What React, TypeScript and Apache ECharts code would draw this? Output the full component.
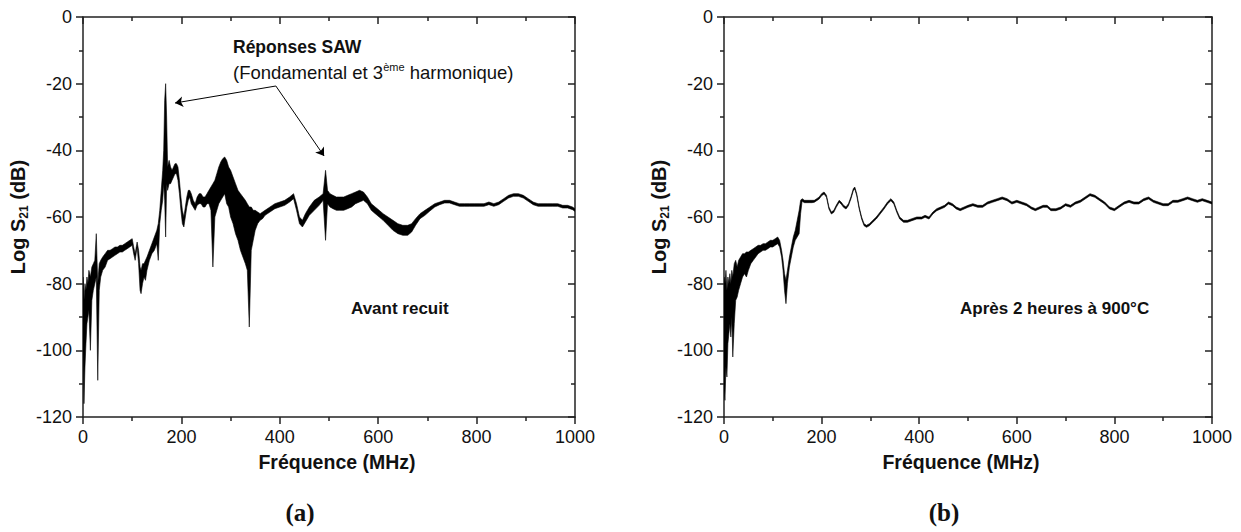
import React, { useEffect, useRef } from "react";
import * as echarts from "echarts";

// [frequency MHz, upper envelope dB, lower envelope dB]
const spectrumA: [number, number, number][] = [
  [0, -78, -100], [2, -85, -116], [4, -80, -105], [6, -82, -98], [8, -78, -92],
  [10, -80, -90], [12, -76, -88], [15, -78, -100], [18, -75, -85], [21, -74, -82],
  [24, -73, -80], [27, -65, -78], [30, -80, -109], [33, -74, -82], [36, -73, -78],
  [40, -72, -76], [45, -71, -75], [50, -70, -73], [55, -70, -72.5], [60, -69.5, -72],
  [65, -69, -71.5], [70, -69, -71], [75, -68.5, -70.5], [80, -68.5, -70.5], [85, -68, -70],
  [90, -67.5, -69.5], [95, -67, -69], [100, -66.5, -68.5], [103, -69, -71], [106, -71, -73],
  [110, -67.5, -69], [113, -70, -74], [116, -75, -82], [118, -76, -83], [121, -74, -80],
  [124, -74, -78], [127, -73, -79], [130, -72, -76], [135, -70, -73], [140, -68, -71],
  [145, -66, -70], [150, -64, -68], [153, -62, -73], [156, -58, -62], [159, -52, -58],
  [162, -46, -55], [164, -40, -50], [166, -25, -55], [168, -20, -66], [170, -30, -50],
  [172, -45, -52], [175, -43, -50], [178, -45, -50], [181, -46, -49], [184, -45, -48],
  [187, -44, -47], [190, -44, -47], [193, -45, -49], [196, -49, -53], [199, -54, -58],
  [202, -58, -62], [205, -60, -63], [208, -57, -60], [211, -54, -57], [214, -52, -55],
  [217, -52, -54], [220, -53, -56], [224, -55, -57], [228, -56, -58], [232, -54, -56.5],
  [236, -53, -56], [240, -53, -56], [244, -54, -57], [248, -54, -57], [252, -53, -56],
  [256, -52, -56], [260, -51, -58], [264, -50, -75], [268, -49, -60], [272, -47, -58],
  [276, -45, -56], [280, -43.5, -55], [284, -42.5, -54], [288, -42, -53], [292, -43, -56],
  [296, -45, -57], [300, -46, -60], [305, -48, -62], [310, -50, -65], [315, -52, -67],
  [320, -53, -70], [325, -54, -72], [330, -55, -74], [334, -56, -76], [338, -57, -93],
  [342, -57, -70], [346, -58, -67], [350, -58, -64], [355, -58.5, -62], [360, -59, -61],
  [365, -58.5, -60.5], [370, -58, -59.5], [380, -57, -58.5], [390, -56, -57.5], [400, -55.5, -57],
  [410, -55, -56.5], [420, -54, -55.5], [428, -53, -54.5], [434, -56, -58], [440, -60, -62],
  [446, -61, -63], [452, -59, -61.5], [460, -57, -59.5], [470, -55, -58], [480, -54, -56.5],
  [488, -53, -55], [493, -46, -67], [497, -52, -56], [502, -53, -57], [508, -53.5, -57.5],
  [515, -54, -58], [522, -54, -58], [530, -54, -58], [538, -53.5, -57.5], [546, -53, -57],
  [554, -52.5, -56], [562, -52, -55.5], [570, -52.5, -55], [578, -54, -56], [586, -56, -58],
  [594, -57, -59], [602, -58, -60], [610, -59, -61], [620, -60, -62.5], [630, -61, -64],
  [640, -62, -65], [650, -62.5, -65.5], [660, -62.5, -65.5], [668, -62, -64.5], [676, -60.5, -62.5],
  [685, -59, -60.5], [695, -58, -59.5], [705, -57, -58.2], [715, -56, -57], [725, -55.5, -56.3],
  [735, -55, -55.8], [745, -55, -55.8], [755, -55.5, -56.3], [765, -56, -56.8], [775, -56, -56.8],
  [785, -56, -56.8], [795, -56, -56.8], [805, -56, -56.8], [815, -56, -56.8], [825, -55.5, -56.3],
  [835, -56, -56.8], [845, -55.5, -56.3], [855, -54.5, -55.3], [865, -53.5, -54.3], [875, -53, -53.8],
  [885, -53, -53.8], [895, -53.5, -54.3], [905, -54.5, -55.3], [915, -55.5, -56.3], [925, -56, -56.8],
  [935, -56, -56.8], [945, -56, -56.8], [955, -56, -56.8], [965, -56, -56.8], [975, -56.5, -57.3],
  [985, -56.5, -57.3], [995, -57, -57.8], [1000, -57.5, -58.3],
];

const spectrumB: [number, number, number][] = [
  [0, -78, -112], [2, -80, -115], [4, -76, -105], [6, -82, -108], [8, -78, -98],
  [10, -80, -95], [12, -77, -92], [14, -80, -96], [16, -76, -90], [18, -78, -102],
  [21, -74, -92], [24, -73, -85], [27, -75, -84], [30, -73, -82], [34, -72, -80],
  [38, -71, -78], [42, -71, -77], [46, -70.5, -78], [50, -70.5, -76], [55, -70, -74],
  [60, -69.5, -73], [65, -69, -72], [70, -68.5, -71], [75, -68.5, -70.5], [80, -68, -70],
  [85, -68, -70], [90, -67.5, -69.5], [95, -67, -69], [100, -67, -69], [105, -66.5, -68.5],
  [110, -66, -68], [114, -67, -69], [118, -70, -72], [121, -73, -76], [124, -77, -82],
  [127, -79, -86], [130, -76, -80], [134, -72, -75], [138, -69, -72], [142, -66, -69],
  [146, -64, -67], [150, -61, -66], [154, -58, -65], [157, -55, -59], [160, -54.5, -55.3],
  [165, -55, -55.7], [170, -55, -55.7], [175, -55, -55.7], [180, -55, -55.7], [185, -55, -55.6],
  [190, -54.5, -55.1], [195, -54, -54.6], [200, -53, -53.6], [205, -52.5, -53.1], [210, -53.5, -54.1],
  [215, -57, -57.6], [220, -58.5, -59.1], [225, -58, -58.6], [230, -56.5, -57.1], [236, -55, -55.6],
  [240, -55.5, -56.1], [245, -56.5, -57.1], [250, -57, -57.6], [255, -56, -56.6], [260, -54, -54.6],
  [265, -51.5, -52.1], [268, -51, -51.6], [272, -53, -53.6], [277, -57, -57.6], [282, -60, -60.6],
  [287, -62, -62.6], [292, -62.5, -63.1], [298, -62, -62.6], [305, -61, -61.6], [312, -60, -60.6],
  [320, -58.5, -59.1], [328, -57, -57.6], [335, -55.5, -56.1], [342, -54.5, -55.1], [348, -55.5, -56.1],
  [354, -58, -58.6], [360, -60, -60.6], [368, -61, -61.6], [376, -61, -61.6], [385, -60.5, -61.1],
  [395, -60, -60.6], [405, -60, -60.6], [412, -59.5, -60.1], [420, -60, -60.6], [428, -58.5, -59.1],
  [436, -57.5, -58.1], [444, -57, -57.6], [452, -56.5, -57.1], [460, -55.5, -56.1], [468, -56, -56.6],
  [476, -57, -57.6], [484, -57.5, -58.1], [492, -57, -57.6], [500, -56.5, -57.1], [510, -56, -56.6],
  [520, -56.5, -57.1], [530, -56.5, -57.1], [540, -55.5, -56.1], [550, -55, -55.6], [560, -54.5, -55.1],
  [570, -54, -54.6], [580, -54.5, -55.1], [590, -55.5, -56.1], [600, -55, -55.6], [610, -55.5, -56.1],
  [620, -56, -56.6], [630, -57, -57.6], [638, -57.5, -58.1], [646, -57, -57.6], [654, -56.5, -57.1],
  [662, -56.5, -57.1], [670, -57.5, -58.1], [680, -57.5, -58.1], [690, -57, -57.6], [700, -56, -56.6],
  [710, -56.5, -57.1], [720, -55.5, -56.1], [730, -55, -55.6], [740, -54, -54.6], [750, -53, -53.6],
  [760, -53.5, -54.1], [770, -54.5, -55.1], [780, -55.5, -56.1], [790, -57, -57.6], [800, -57.5, -58.1],
  [810, -56.5, -57.1], [820, -55.5, -56.1], [830, -55, -55.6], [840, -55.5, -56.1], [850, -55.5, -56.1],
  [860, -54.5, -55.1], [870, -54, -54.6], [880, -55, -55.6], [890, -55.5, -56.1], [900, -56, -56.6],
  [910, -56, -56.6], [920, -55, -55.6], [930, -55, -55.6], [940, -54.5, -55.1], [950, -54, -54.6],
  [960, -54.5, -55.1], [970, -55, -55.6], [980, -54.5, -55.1], [990, -55, -55.6], [1000, -55.5, -56.1],
];

// Arrow annotation (data coordinates of panel a): start point, two targets
const arrowStart: [number, number] = [392, -20.7];
const arrowTargets: [number, number][] = [[187, -25.8], [490, -41.7]];

const xTicks = { min: 0, max: 1000, interval: 200 };
const yTicks = { min: -120, max: 0, interval: 20 };

const FONT = "Arial, 'Liberation Sans', sans-serif";
const AXIS_COLOR = "#222";

function xAxisDef(gridIndex: number, top: boolean, namePad: number[]) {
  return {
    type: "value",
    gridIndex,
    position: top ? "top" : "bottom",
    min: xTicks.min,
    max: xTicks.max,
    interval: xTicks.interval,
    axisLine: { show: true, onZero: false, lineStyle: { color: AXIS_COLOR, width: 1.5 } },
    axisTick: { show: true, inside: top, length: 7, lineStyle: { color: AXIS_COLOR, width: 1.5 } },
    minorTick: { show: true, splitNumber: 2, length: 4, lineStyle: { color: AXIS_COLOR, width: 1.5 } },
    splitLine: { show: false },
    minorSplitLine: { show: false },
    axisLabel: {
      show: !top,
      fontSize: 18,
      color: "#111",
      margin: 11,
      fontFamily: FONT,
      formatter: (v: number) => String(v),
    },
    name: top ? "" : "Fréquence (MHz)",
    nameLocation: "middle",
    nameGap: 35,
    nameTextStyle: { fontSize: 19.5, fontWeight: "bold", color: "#111", fontFamily: FONT, padding: namePad },
  };
}

function yAxisDef(gridIndex: number, right: boolean) {
  return {
    type: "value",
    gridIndex,
    position: right ? "right" : "left",
    min: yTicks.min,
    max: yTicks.max,
    interval: yTicks.interval,
    axisLine: { show: true, onZero: false, lineStyle: { color: AXIS_COLOR, width: 1.5 } },
    axisTick: { show: true, inside: right, length: 7, lineStyle: { color: AXIS_COLOR, width: 1.5 } },
    minorTick: { show: true, splitNumber: 2, length: 4, lineStyle: { color: AXIS_COLOR, width: 1.5 } },
    splitLine: { show: false },
    minorSplitLine: { show: false },
    axisLabel: {
      show: !right,
      fontSize: 18,
      color: "#111",
      margin: 11,
      fontFamily: FONT,
      formatter: (v: number) => String(v),
    },
    name: right ? "" : "Log S{sub|21} (dB)",
    nameLocation: "middle",
    nameGap: 53,
    nameTextStyle: {
      fontSize: 20,
      fontWeight: "bold",
      color: "#111",
      fontFamily: FONT,
      lineHeight: 24,
      rich: {
        sub: { fontSize: 12, fontWeight: "bold", color: "#111", fontFamily: FONT, verticalAlign: "bottom", lineHeight: 14 },
      },
    },
  };
}

function bandSeries(rows: [number, number, number][], axisIndex: number) {
  return {
    type: "custom",
    xAxisIndex: axisIndex,
    yAxisIndex: axisIndex,
    clip: true,
    silent: true,
    data: [[rows[0][0], rows[0][1]]],
    renderItem: (_params: any, api: any) => {
      const upper = rows.map(([f, hi]) => api.coord([f, hi]));
      const lower = rows
        .slice()
        .reverse()
        .map(([f, , lo]) => api.coord([f, lo]));
      return {
        type: "polygon",
        shape: { points: upper.concat(lower) },
        style: { fill: "#000", stroke: "#000", lineWidth: 0.6 },
      };
    },
  };
}

export default function App() {
  const ref = useRef<HTMLDivElement>(null);

  useEffect(() => {
    document.body.style.margin = "0";
    if (!ref.current) return;
    const chart = echarts.init(ref.current, undefined, { renderer: "svg" });

    const option: any = {
      animation: false,
      backgroundColor: "#fff",
      textStyle: { fontFamily: FONT },
      grid: [
        { left: 83, top: 17, width: 492, height: 400 },
        { left: 724, top: 17, width: 488, height: 400 },
      ],
      xAxis: [
        xAxisDef(0, false, [0, 0, 0, 16]),
        xAxisDef(0, true, [0, 0, 0, 0]),
        xAxisDef(1, false, [0, 14, 0, 0]),
        xAxisDef(1, true, [0, 0, 0, 0]),
      ],
      yAxis: [yAxisDef(0, false), yAxisDef(0, true), yAxisDef(1, false), yAxisDef(1, true)],
      series: [
        bandSeries(spectrumA, 0),
        bandSeries(spectrumB, 2),
        {
          type: "line",
          xAxisIndex: 0,
          yAxisIndex: 0,
          data: [],
          silent: true,
          markLine: {
            silent: true,
            symbol: ["none", "arrow"],
            symbolSize: [8, 8],
            lineStyle: { color: "#000", width: 1, type: "solid" },
            label: { show: false },
            data: arrowTargets.map((t) => [{ coord: arrowStart }, { coord: t }]),
          },
        },
      ],
      graphic: [
        {
          type: "text",
          x: 233,
          y: 47,
          style: { text: "Réponses SAW", font: `bold 17.5px ${FONT}`, fill: "#111", textAlign: "left", textVerticalAlign: "middle" },
        },
        {
          type: "text",
          x: 233,
          y: 72,
          style: {
            text: "(Fondamental et 3{sup|ème} harmonique)",
            font: `18.5px ${FONT}`,
            fill: "#111",
            textAlign: "left",
            textVerticalAlign: "middle",
            lineHeight: 22,
            rich: {
              sup: { fontSize: 11, fontFamily: FONT, fill: "#111", verticalAlign: "top", lineHeight: 11 },
            },
          },
        },
        {
          type: "text",
          x: 351,
          y: 308,
          style: { text: "Avant recuit", font: `bold 17px ${FONT}`, fill: "#111", textAlign: "left", textVerticalAlign: "middle" },
        },
        {
          type: "text",
          x: 960,
          y: 308,
          style: { text: "Après 2 heures à 900°C", font: `bold 17px ${FONT}`, fill: "#111", textAlign: "left", textVerticalAlign: "middle" },
        },
        {
          type: "text",
          x: 300,
          y: 512,
          style: { text: "(a)", font: `bold 25px 'Liberation Serif', 'Times New Roman', serif`, fill: "#111", textAlign: "center", textVerticalAlign: "middle" },
        },
        {
          type: "text",
          x: 944,
          y: 512,
          style: { text: "(b)", font: `bold 25px 'Liberation Serif', 'Times New Roman', serif`, fill: "#111", textAlign: "center", textVerticalAlign: "middle" },
        },
      ],
    };

    chart.setOption(option);
    return () => chart.dispose();
  }, []);

  return <div ref={ref} style={{ width: 1241, height: 532 }} />;
}
